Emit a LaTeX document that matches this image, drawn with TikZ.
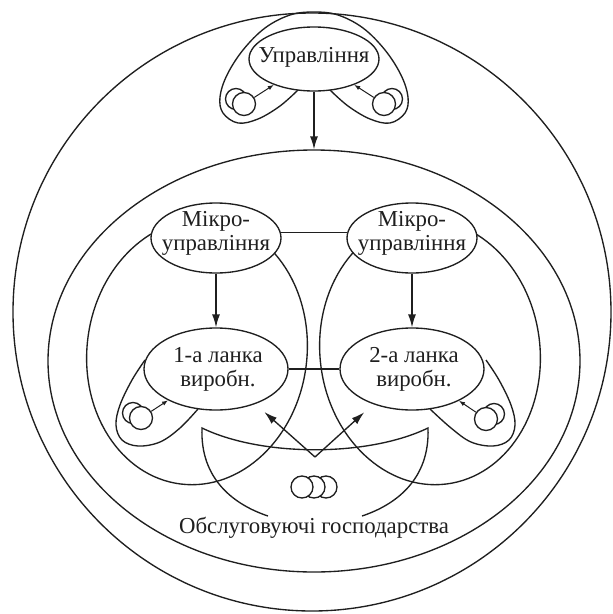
\documentclass[tikz,border=0pt]{standalone}
\usepackage{fontspec}
\setmainfont{Liberation Serif}
\usetikzlibrary{shapes.geometric,arrows.meta,calc}

\begin{document}
\begin{tikzpicture}[x=1pt,y=-1pt, line width=1.35pt, line join=round, color=black!88,
  ell/.style={draw, ellipse, fill=white, inner sep=0pt},
  lbl/.style={font=\fontsize{22.8}{24}\selectfont, align=center, inner sep=0pt},
  arr/.style={-{Latex[length=13pt,width=8pt]}},
  sarr/.style={-{Latex[length=6pt,width=4.5pt]}, line width=1pt},
  ring/.style={draw, circle, fill=white, inner sep=0pt, minimum size=#1},
  ring/.default=22pt
]
\useasboundingbox (0,0) rectangle (613,614);

% enclosing circle and the farm ellipse
\node[draw, circle, minimum size=598pt, inner sep=0pt] (world) at (312,312) {};
\node[draw, ellipse, minimum width=532pt, minimum height=422pt, inner sep=0pt] (farm) at (314,361) {};

% tall ellipses grouping each production chain
\draw[rotate around={-7:(197,352)}] (197,352) ellipse [x radius=110, y radius=133];
\draw[rotate around={7:(430,352)}] (430,352) ellipse [x radius=110, y radius=133];

% loop around the top management node
\draw plot[smooth, tension=0.6] coordinates {
  (298,90) (280,106) (258,119) (238,123) (223,113) (220,97) (227,75) (243,50)
  (265,28) (290,15) (314,12) (338,15) (363,28) (385,50) (401,75) (408,97)
  (405,113) (390,123) (370,119) (348,106) (330,90)};

% loops around the production units
\draw plot[smooth, tension=0.6] coordinates {
  (145,360) (132,380) (120,405) (116,425) (122,440) (138,446) (160,442) (180,428) (198,409)};
\draw plot[smooth, tension=0.6] coordinates {
  (486,360) (499,380) (511,405) (515,425) (509,440) (493,446) (471,442) (451,428) (430,409)};

% service facilities outline
\draw[line join=miter] (268,516) .. controls (235,505) and (200,480) .. (202,428)
  .. controls (262,457) and (368,457) .. (428,428)
  .. controls (430,480) and (395,505) .. (362,516);

% main nodes
\node[ell, minimum width=130pt, minimum height=64pt] (upr) at (314,59) {};
\node[ell, minimum width=130pt, minimum height=70pt] (m1) at (216,238) {};
\node[ell, minimum width=130pt, minimum height=70pt] (m2) at (412,238) {};
\node[ell, minimum width=144pt, minimum height=82pt] (l1) at (216,369) {};
\node[ell, minimum width=144pt, minimum height=82pt] (l2) at (412,369) {};

\node[lbl, anchor=base] (uprtxt) at (314,62) {Управління};
\node[lbl] (m1txt) at (216,233) {Мікро-\\управління};
\node[lbl] (m2txt) at (412,233) {Мікро-\\управління};
\node[lbl] (l1txt) at (218,369) {1-а ланка\\виробн.};
\node[lbl] (l2txt) at (414,369) {2-а ланка\\виробн.};
\node[lbl, anchor=base] (svctxt) at (314,533) {Обслуговуючі господарства};

% small workshop rings
\node[ring=21pt] (ua) at (236,99) {};
\node[ring=23pt] (ub) at (244,104) {};
\node[ring=21pt] (va) at (392,99) {};
\node[ring=23pt] (vb) at (384,104) {};
\node[ring=21pt] (la) at (133,413) {};
\node[ring=23pt] (lb) at (141,418) {};
\node[ring=21pt] (ra) at (494,414) {};
\node[ring=23pt] (rb) at (486,419) {};
\node[ring] (s3) at (326,487) {};
\node[ring] (s2) at (314,487) {};
\node[ring] (s1) at (302,487) {};

% connectors
\draw[arr] (upr.south) -- (farm.north);
\draw[arr] (m1) -- (l1);
\draw[arr] (m2) -- (l2);
\draw (m1.5) -- (m2.175);
\draw (l1.east) -- (l2.west);
\draw[sarr] (ub) -- (upr);
\draw[sarr] (vb) -- (upr);
\draw[sarr] (lb) -- (l1);
\draw[sarr] (rb) -- (l2);

\coordinate (svc) at (315,457);
\draw[arr, shorten >=12pt] (svc) -- (l1);
\draw[arr, shorten >=12pt] (svc) -- (l2);
\end{tikzpicture}
\end{document}
